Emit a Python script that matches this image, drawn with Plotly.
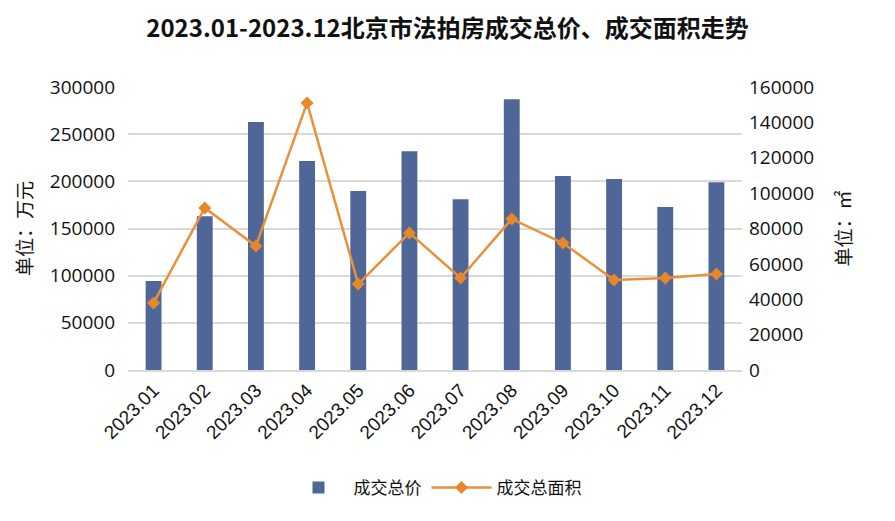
import plotly.graph_objects as go

months = ["2023.01", "2023.02", "2023.03", "2023.04", "2023.05", "2023.06",
          "2023.07", "2023.08", "2023.09", "2023.10", "2023.11", "2023.12"]
total_price = [94300, 163000, 263000, 221500, 189700, 232000,
               181000, 287000, 205600, 202500, 172800, 199000]
total_area = [37900, 91600, 70100, 151000, 48600, 77500,
              52000, 85400, 71800, 50900, 52000, 54300]

font_cjk = "Noto Sans CJK SC"
tick_font = dict(family="Open Sans, Noto Sans CJK SC", size=19, color="#111111")

fig = go.Figure()
fig.add_trace(go.Bar(
    x=months, y=total_price, name="成交总价",
    marker=dict(color="#4f6796", line=dict(width=0)),
    width=0.31, yaxis="y",
))
fig.add_trace(go.Scatter(
    x=months, y=total_area, name="成交总面积", mode="lines+markers",
    line=dict(color="#e8913a", width=2.5),
    marker=dict(symbol="diamond", size=10, color="#e8862a"),
    yaxis="y2",
))

fig.update_layout(
    width=895, height=521,
    margin=dict(l=128, r=153, t=87, b=151),
    paper_bgcolor="white", plot_bgcolor="white",
    title=dict(text="<b>2023.01-2023.12北京市法拍房成交总价、成交面积走势</b>",
               x=0.5, xanchor="center", y=0.945, yanchor="middle",
               font=dict(family=font_cjk, size=24, color="#111111")),
    font=dict(family=font_cjk, color="#111111"),
    xaxis=dict(tickangle=-45, tickfont=dict(family="Liberation Sans, Arial", size=19, color="#111111"),
               showline=True, linecolor="#d9d9d9", linewidth=1.5, ticks="",
               showgrid=False, automargin=False, range=[-0.5, 11.5]),
    yaxis=dict(range=[0, 300000], dtick=50000, tickformat="d",
               tickfont=tick_font, showgrid=True, gridcolor="#d9d9d9", gridwidth=1.5,
               zeroline=False, ticks="", ticklabelstandoff=12, automargin=False,
               title=dict(text="单位：万元", font=dict(family=font_cjk, size=19, color="#111111"),
                          standoff=12)),
    yaxis2=dict(range=[0, 160000], dtick=20000, tickformat="d", overlaying="y",
                side="right", tickfont=tick_font, showgrid=False, zeroline=False,
                ticks="", ticklabelstandoff=6, automargin=False,
                title=dict(text="单位：㎡", font=dict(family=font_cjk, size=19, color="#111111"),
                           standoff=24)),
    legend=dict(orientation="h", x=0.5, xanchor="center", y=-0.417, yanchor="middle",
                font=dict(family=font_cjk, size=17, color="#111111"), traceorder="normal",
                itemwidth=60),
    showlegend=True,
    bargap=0.5,
)

fig.write_html("out.html")
